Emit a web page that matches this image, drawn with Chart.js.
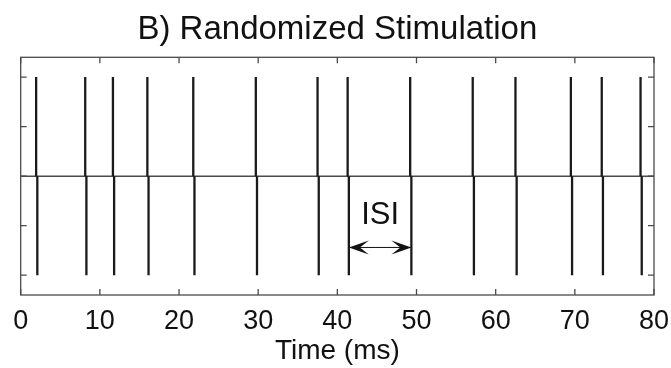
<!DOCTYPE html>
<html>
<head>
<meta charset="utf-8">
<script src="https://cdn.jsdelivr.net/npm/chart.js@4/dist/chart.umd.min.js"></script>
<style>
  html, body { margin: 0; padding: 0; background: #fff; }
  #wrap { width: 671px; height: 368px; }
</style>
</head>
<body>
<div id="wrap"><canvas id="c" width="671" height="368"></canvas></div>
<script>
// ---- data ----
const titleText = 'B) Randomized Stimulation';
const xAxisLabel = 'Time (ms)';
const pulseTimes = [1.95, 8.15, 11.65, 16.0, 21.8, 29.7, 37.5, 41.3, 49.2, 57.1, 62.5, 69.5, 73.4, 78.3];
const positivePhase = 1;
const negativePhase = -1;
const phaseGap = 0.15;           // ms between the two phases of a pulse
const xTicks = [0, 10, 20, 30, 40, 50, 60, 70, 80];
const yTicks = [-1, -0.5, 0, 0.5, 1];
const xRange = [0, 80];
const yRange = [-1.2, 1.2];
const isiLabel = 'ISI';
const isiLabelPos = [45.4, -0.40];
const isiArrow = [41.45, 49.35, -0.72];

// ---- build datasets from the data ----
const pulsePoints = pulseTimes.flatMap(t => [
  {x: t, y: 0}, {x: t, y: positivePhase}, {x: t, y: null},
  {x: t + phaseGap, y: 0}, {x: t + phaseGap, y: negativePhase}, {x: t + phaseGap, y: null}
]);
const baselinePoints = [{x: xRange[0], y: 0}, {x: xRange[1], y: 0}];

const FONT = "'Liberation Sans', Arial, sans-serif";

const framePlugin = {
  id: 'frame',
  afterDatasetsDraw(chart) {
    const {ctx, chartArea: a, scales: {x, y}} = chart;
    ctx.save();
    ctx.strokeStyle = '#4a4a4a';
    ctx.lineWidth = 1.3;
    ctx.strokeRect(a.left, a.top, a.right - a.left, a.bottom - a.top);
    const tl = 6;
    ctx.beginPath();
    xTicks.forEach(v => {
      const px = x.getPixelForValue(v);
      ctx.moveTo(px, a.bottom); ctx.lineTo(px, a.bottom - tl);
      ctx.moveTo(px, a.top); ctx.lineTo(px, a.top + tl);
    });
    yTicks.forEach(v => {
      const py = y.getPixelForValue(v);
      ctx.moveTo(a.left, py); ctx.lineTo(a.left + tl, py);
      ctx.moveTo(a.right, py); ctx.lineTo(a.right - tl, py);
    });
    ctx.stroke();

    // ISI annotation
    ctx.fillStyle = '#111';
    ctx.font = '31px ' + FONT;
    ctx.textAlign = 'center';
    ctx.textBaseline = 'middle';
    ctx.fillText(isiLabel, x.getPixelForValue(isiLabelPos[0]), y.getPixelForValue(isiLabelPos[1]));

    const x0 = x.getPixelForValue(isiArrow[0]);
    const x1 = x.getPixelForValue(isiArrow[1]);
    const ya = y.getPixelForValue(isiArrow[2]);
    ctx.strokeStyle = '#111';
    ctx.lineWidth = 1;
    ctx.beginPath(); ctx.moveTo(x0, ya); ctx.lineTo(x1, ya); ctx.stroke();
    const L = 20, H = 7, N = 0.55;
    const head = (tip, dir) => {
      ctx.beginPath();
      ctx.moveTo(tip, ya);
      ctx.lineTo(tip + dir * L, ya - H);
      ctx.lineTo(tip + dir * L * N, ya);
      ctx.lineTo(tip + dir * L, ya + H);
      ctx.closePath();
      ctx.fill();
    };
    head(x0, 1);
    head(x1, -1);
    ctx.restore();
  }
};

new Chart(document.getElementById('c'), {
  type: 'line',
  data: {
    datasets: [
      {
        data: pulsePoints,
        borderColor: '#1a1a1a',
        borderWidth: 2.3,
        pointRadius: 0,
        spanGaps: false,
        tension: 0
      },
      {
        data: baselinePoints,
        borderColor: '#4a4a4a',
        borderWidth: 1.5,
        pointRadius: 0,
        tension: 0
      }
    ]
  },
  options: {
    responsive: false,
    animation: false,
    events: [],
    layout: { padding: { left: 20.7, right: 17, top: 0, bottom: 0 } },
    plugins: {
      legend: { display: false },
      tooltip: { enabled: false },
      title: {
        display: true,
        text: titleText,
        color: '#111',
        font: { family: FONT, size: 33, weight: 'normal', lineHeight: 1.2 },
        padding: { top: 10, bottom: 7.7 }
      }
    },
    scales: {
      x: {
        type: 'linear',
        min: xRange[0],
        max: xRange[1],
        afterBuildTicks: s => { s.ticks = xTicks.map(v => ({value: v})); },
        afterFit: s => { s.height = 73; s.paddingLeft = 0; s.paddingRight = 0; },
        grid: { display: false, drawTicks: false },
        border: { display: false },
        ticks: {
          color: '#111',
          padding: 10,
          autoSkip: false,
          maxRotation: 0,
          font: { family: FONT, size: 27, lineHeight: 1.2 }
        },
        title: {
          display: true,
          text: xAxisLabel,
          color: '#111',
          padding: { top: 2, bottom: 2.6 },
          font: { family: FONT, size: 28, lineHeight: 1.0 }
        }
      },
      y: {
        type: 'linear',
        display: false,
        min: yRange[0],
        max: yRange[1],
        afterBuildTicks: s => { s.ticks = yTicks.map(v => ({value: v})); }
      }
    }
  },
  plugins: [framePlugin]
});
</script>
</body>
</html>
